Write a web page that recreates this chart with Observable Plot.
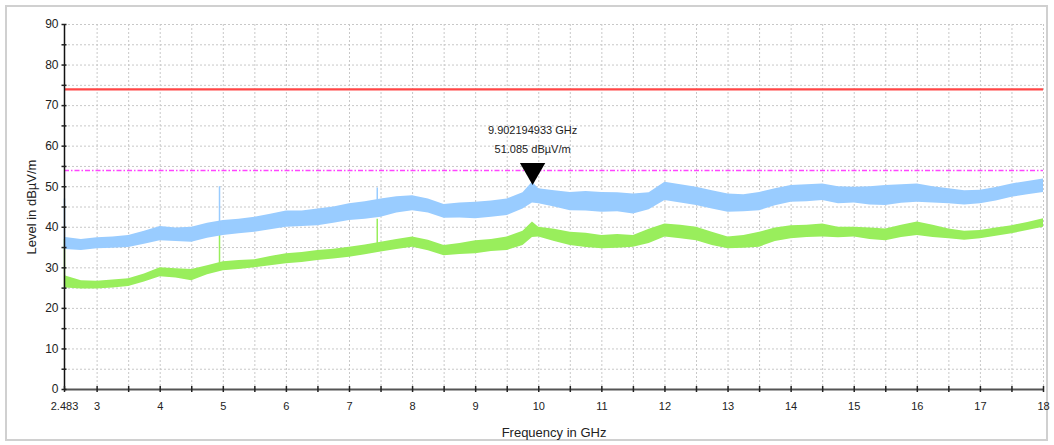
<!DOCTYPE html>
<html>
<head>
<meta charset="utf-8">
<script src="https://cdn.jsdelivr.net/npm/d3@7"></script>
<script src="https://cdn.jsdelivr.net/npm/@observablehq/plot@0.6"></script>
<style>
  html, body { margin: 0; padding: 0; background: #fff; }
  #wrap { position: relative; width: 1054px; height: 445px; }
  #border { position: absolute; left: 5px; top: 5px; width: 1043px; height: 436px; border: 2px solid #d0d0d0; box-sizing: border-box; pointer-events: none; }
  svg { font-family: "Liberation Sans", Arial, sans-serif; }
</style>
</head>
<body>
<div id="wrap"><div id="border"></div></div>
<script>
// ---- Data ----
const freq = [2.483, 2.5, 2.75, 3, 3.25, 3.5, 3.75, 4, 4.25, 4.5, 4.75, 5, 5.25, 5.5, 5.75, 6, 6.25, 6.5, 6.75, 7, 7.25, 7.5, 7.75, 8, 8.25, 8.5, 8.75, 9, 9.25, 9.5, 9.75, 9.9, 10, 10.25, 10.5, 10.75, 11, 11.25, 11.5, 11.75, 12, 12.25, 12.5, 12.75, 13, 13.25, 13.5, 13.75, 14, 14.25, 14.5, 14.75, 15, 15.25, 15.5, 15.75, 16, 16.25, 16.5, 16.75, 17, 17.25, 17.5, 17.75, 18];
const blueHi = [37.8, 37.5, 37.0, 37.4, 37.6, 38.0, 39.0, 40.2, 39.8, 40.0, 41.0, 41.7, 42.0, 42.5, 43.2, 44.0, 44.0, 44.5, 45.0, 45.8, 46.3, 47.0, 47.5, 47.8, 47.0, 45.6, 46.0, 46.2, 46.5, 47.0, 48.5, 51.1, 49.5, 49.0, 48.6, 48.8, 48.6, 48.5, 48.2, 48.5, 51.1, 50.5, 49.9, 49.0, 48.2, 48.0, 48.6, 49.5, 50.3, 50.5, 50.7, 50.0, 49.9, 50.0, 50.3, 50.5, 50.7, 50.0, 49.5, 49.0, 49.1, 49.8, 50.7, 51.3, 51.9];
const blueLo = [34.5, 34.5, 34.3, 34.7, 34.8, 35.0, 35.8, 36.7, 36.5, 36.3, 37.3, 38.0, 38.4, 38.8, 39.4, 40.0, 40.2, 40.4, 41.0, 41.7, 42.0, 42.5, 43.5, 44.1, 43.5, 42.2, 42.3, 42.1, 42.5, 42.9, 44.5, 46.0, 45.8, 45.0, 44.1, 44.0, 43.7, 43.8, 43.3, 44.3, 46.6, 46.0, 45.4, 44.5, 43.7, 43.8, 44.1, 45.3, 46.2, 46.3, 46.6, 45.8, 46.0, 45.5, 45.4, 45.9, 46.2, 46.0, 45.8, 45.5, 45.8, 46.5, 47.4, 48.0, 48.6];
const greenHi = [28.0, 28.0, 26.8, 26.7, 27.0, 27.3, 28.5, 30.0, 29.8, 29.6, 30.5, 31.5, 31.8, 32.0, 32.8, 33.5, 33.8, 34.3, 34.6, 35.1, 35.6, 36.3, 37.0, 37.6, 36.8, 35.5, 36.0, 36.7, 37.0, 37.6, 39.0, 41.3, 40.0, 39.5, 38.8, 38.5, 38.0, 38.2, 38.0, 39.5, 40.8, 40.5, 40.0, 38.8, 37.6, 38.0, 38.8, 39.8, 40.4, 40.5, 40.8, 40.0, 40.0, 39.8, 39.6, 40.5, 41.3, 40.5, 39.6, 39.0, 39.2, 39.8, 40.4, 41.2, 42.1];
const greenLo = [25.0, 25.0, 24.8, 24.8, 25.0, 25.4, 26.5, 27.8, 27.5, 26.8, 28.3, 29.3, 29.6, 30.0, 30.5, 31.0, 31.3, 31.8, 32.2, 32.6, 33.2, 33.9, 34.5, 35.1, 34.2, 33.0, 33.3, 33.5, 34.0, 34.3, 35.5, 37.5, 37.6, 36.5, 35.5, 35.0, 34.7, 34.8, 35.1, 36.0, 37.6, 37.2, 36.7, 35.5, 34.7, 34.8, 35.1, 36.5, 37.2, 37.5, 37.6, 37.4, 37.6, 37.0, 36.7, 37.5, 38.0, 37.5, 37.2, 36.8, 37.2, 37.8, 38.4, 39.2, 40.0];

const spikeFreq = [2.483, 4.94, 7.44];
const blueSpikeTop = [47.0, 50.0, 49.7];
const blueSpikeBase = [35.0, 39.0, 43.0];
const greenSpikeTop = [37.0, 41.0, 42.0];
const greenSpikeBase = [25.0, 29.5, 34.0];

const peakLimit = 74;
const avgLimit = 54;

const markerFreq = 9.902194933;
const markerLevel = 51.085;
const markerLabel1 = "9.902194933 GHz";
const markerLabel2 = "51.085 dBµV/m";

const xTitle = "Frequency in GHz";
const yTitle = "Level in dBµV/m";

const xMajorTicks = [2.483, 3, 4, 5, 6, 7, 8, 9, 10, 11, 12, 13, 14, 15, 16, 17, 18];
const xMinorTicks = [3.5, 4.5, 5.5, 6.5, 7.5, 8.5, 9.5, 10.5, 11.5, 12.5, 13.5, 14.5, 15.5, 16.5, 17.5];
const xGrid = [3, 3.5, 4, 4.5, 5, 5.5, 6, 6.5, 7, 7.5, 8, 8.5, 9, 9.5, 10, 10.5, 11, 11.5, 12, 12.5, 13, 13.5, 14, 14.5, 15, 15.5, 16, 16.5, 17, 17.5, 18];
const yMajorTicks = [0, 10, 20, 30, 40, 50, 60, 70, 80, 90];
const yMinorTicks = [5, 15, 25, 35, 45, 55, 65, 75, 85];
const yGrid = [5, 10, 15, 20, 25, 30, 35, 40, 45, 50, 55, 60, 65, 70, 75, 80, 85, 90];

// ---- Build tables ----
const blue = freq.map((f, i) => ({f, lo: blueLo[i], hi: blueHi[i]}));
const green = freq.map((f, i) => ({f, lo: greenLo[i], hi: greenHi[i]}));
const bSp = spikeFreq.map((f, i) => ({f, lo: blueSpikeBase[i], hi: blueSpikeTop[i]}));
const gSp = spikeFreq.map((f, i) => ({f, lo: greenSpikeBase[i], hi: greenSpikeTop[i]}));

const BLUE = "#99ccff";
const GREEN = "#99ee5c";
const gridStyle = {stroke: "#c8c8c8", strokeWidth: 1, strokeDasharray: "2,2", strokeOpacity: 1};

const chart = Plot.plot({
  width: 1054,
  height: 445,
  marginLeft: 64,
  marginRight: 11,
  marginTop: 24,
  marginBottom: 56,
  style: {fontFamily: "'Liberation Sans', Arial, sans-serif", fontSize: "11px", color: "#222", background: "transparent"},
  x: {domain: [2.483, 18]},
  y: {domain: [0, 90]},
  marks: [
    Plot.ruleX(xGrid, {...gridStyle}),
    Plot.ruleY(yGrid, {...gridStyle}),
    Plot.ruleY([peakLimit], {stroke: "#ff4646", strokeWidth: 2.2}),
    Plot.ruleY([avgLimit], {stroke: "#ff44ff", strokeWidth: 1.5, strokeDasharray: "5,2,1.5,2"}),
    Plot.areaY(green, {x: "f", y1: "lo", y2: "hi", fill: GREEN}),
    Plot.ruleX(gSp, {x: "f", y1: "lo", y2: "hi", stroke: GREEN, strokeWidth: 1.5}),
    Plot.areaY(blue, {x: "f", y1: "lo", y2: "hi", fill: BLUE}),
    Plot.ruleX(bSp, {x: "f", y1: "lo", y2: "hi", stroke: BLUE, strokeWidth: 1.5}),
    // axes lines
    Plot.ruleY([0], {stroke: "#555", strokeWidth: 2}),
    Plot.ruleX([2.483], {stroke: "#111", strokeWidth: 1.5}),
    // x axis ticks and labels
    Plot.axisX({ticks: xMajorTicks, tickSize: 6, dy: -3, text: null, label: null, stroke: "#222", strokeWidth: 1.5}),
    Plot.axisX({ticks: xMinorTicks, tickSize: 6, dy: -3, text: null, label: null, stroke: "#222", strokeWidth: 1.5}),
    Plot.axisX({ticks: xMajorTicks, tickSize: 0, tickPadding: 13, tickFormat: d => d === 2.483 ? "2.483" : String(d), fontSize: 11, label: null}),
    // y axis ticks and labels
    Plot.axisY({ticks: yMajorTicks, tickSize: 5, dx: 2.5, text: null, label: null, stroke: "#222", strokeWidth: 1.5}),
    Plot.axisY({ticks: yMinorTicks, tickSize: 5, dx: 2.5, text: null, label: null, stroke: "#222", strokeWidth: 1.5}),
    Plot.axisY({ticks: yMajorTicks, tickSize: 0, tickPadding: 6, fontSize: 12, label: null}),
    // axis titles
    Plot.text([xTitle], {frameAnchor: "bottom", dy: 47, fontSize: 13, fill: "#222", lineAnchor: "bottom"}),
    Plot.text([yTitle], {frameAnchor: "left", rotate: -90, dx: -33, fontSize: 13, fill: "#222", textAnchor: "middle"}),
    // marker
    Plot.dot([{f: markerFreq, v: markerLevel}], {x: "f", y: "v", symbol: "triangle", rotate: 180, r: 9.4, fill: "#000", stroke: null, dy: -12}),
    Plot.text([{f: markerFreq, v: markerLevel}], {x: "f", y: "v", text: () => markerLabel1, dy: -52, fontSize: 11, fill: "#222"}),
    Plot.text([{f: markerFreq, v: markerLevel}], {x: "f", y: "v", text: () => markerLabel2, dy: -33, fontSize: 11, fill: "#222"})
  ]
});
document.getElementById("wrap").appendChild(chart);
chart.style.position = "absolute";
chart.style.left = "0";
chart.style.top = "0";
</script>
</body>
</html>
